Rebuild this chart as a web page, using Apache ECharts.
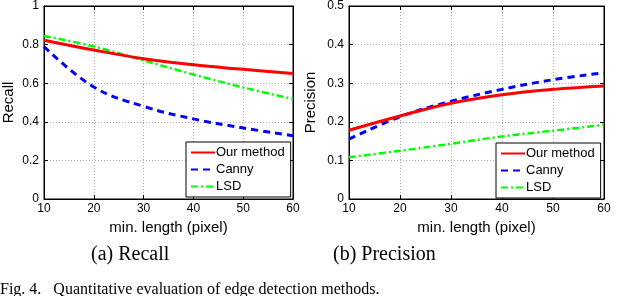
<!DOCTYPE html>
<html><head><meta charset="utf-8">
<script src="https://cdn.jsdelivr.net/npm/echarts@6/dist/echarts.min.js"></script>
<style>html,body{margin:0;padding:0;background:#fff}#c{width:640px;height:296px}</style>
</head><body><div id="c"></div>
<script>
const xVals = [10, 20, 30, 40, 50, 60];
const recallOur   = [0.823, 0.772, 0.727, 0.695, 0.672, 0.650];
const recallCanny = [0.790, 0.580, 0.480, 0.415, 0.368, 0.328];
const recallLSD   = [0.845, 0.790, 0.718, 0.645, 0.578, 0.518];
const precOur   = [0.178, 0.215, 0.248, 0.270, 0.284, 0.293];
const precCanny = [0.155, 0.213, 0.253, 0.284, 0.309, 0.327];
const precLSD   = [0.108, 0.125, 0.143, 0.162, 0.177, 0.192];
const names = ['Our method', 'Canny', 'LSD'];
const recallMax = 1, precMax = 0.5;

const pair = (ys) => xVals.map((x, i) => [x, ys[i]]);
const font = 'Liberation Sans, Arial, sans-serif';
const styles = [
  {color: '#ff0000', type: 'solid', width: 3},
  {color: '#0000ff', type: [7, 5], width: 3},
  {color: '#00ff00', type: [7, 3, 2, 3], width: 2.5}
];

function xAx(gi, pos) {
  return {
    type: 'value', gridIndex: gi, min: 10, max: 60, interval: 10, position: pos,
    name: pos === 'bottom' ? 'min. length (pixel)' : '', nameLocation: 'middle', nameGap: 16,
    nameTextStyle: {fontFamily: font, fontSize: 15, color: '#000'},
    axisLine: {show: true, onZero: false, lineStyle: {color: '#000', width: 1}},
    axisTick: {show: true, inside: true, length: 4, lineStyle: {color: '#000'}},
    axisLabel: {show: pos === 'bottom', fontFamily: font, fontSize: 12, color: '#000', margin: 4},
    splitLine: {show: pos === 'bottom', lineStyle: {color: '#aaa', type: [1, 2], width: 1}}
  };
}
function yAx(gi, pos, max, name, gap) {
  return {
    type: 'value', gridIndex: gi, min: 0, max: max, interval: max / 5, position: pos,
    name: pos === 'left' ? name : '', nameLocation: 'middle', nameGap: gap, nameRotate: 90,
    nameTextStyle: {fontFamily: font, fontSize: 15, color: '#000'},
    axisLine: {show: true, onZero: false, lineStyle: {color: '#000', width: 1}},
    axisTick: {show: true, inside: true, length: 4, lineStyle: {color: '#000'}},
    axisLabel: {show: pos === 'left', fontFamily: font, fontSize: 12, color: '#000', margin: 5,
      formatter: v => String(+v.toFixed(2))},
    splitLine: {show: pos === 'left', lineStyle: {color: '#aaa', type: [1, 2], width: 1}}
  };
}
function mkSeries(gi, arrs) {
  return arrs.map((a, i) => ({
    name: names[i], type: 'line', xAxisIndex: gi * 2, yAxisIndex: gi * 2,
    data: pair(a), smooth: 0.4, symbol: 'none', lineStyle: styles[i], itemStyle: {color: styles[i].color},
    z: 3 - i
  }));
}
function mkLegend(left, top) {
  return {
    left: left, top: top, orient: 'vertical', data: names,
    backgroundColor: '#fff', borderColor: '#000', borderWidth: 1, borderRadius: 0,
    padding: [4, 6, 4, 4], itemGap: 4, itemWidth: 24, itemHeight: 12,
    itemStyle: {opacity: 0},
    textStyle: {fontFamily: font, fontSize: 13, color: '#000', padding: [0, 0, 0, -4]},
    selectedMode: false
  };
}
const option = {
  animation: false,
  grid: [
    {left: 40, top: 5, width: 253, height: 194, show: true, borderColor: '#000', borderWidth: 1},
    {left: 349, top: 6, width: 255, height: 193, show: true, borderColor: '#000', borderWidth: 1}
  ],
  xAxis: [xAx(0, 'bottom'), xAx(0, 'top'), xAx(1, 'bottom'), xAx(1, 'top')],
  yAxis: [yAx(0, 'left', recallMax, 'Recall', 28), yAx(0, 'right', recallMax, '', 28),
          yAx(1, 'left', precMax, 'Precision', 31), yAx(1, 'right', precMax, '', 31)],
  legend: [mkLegend(186, 142), mkLegend(496, 143)],
  series: [...mkSeries(0, [recallOur, recallCanny, recallLSD]), ...mkSeries(1, [precOur, precCanny, precLSD])],
  graphic: [
    {type: 'text', left: 91, top: 245, style: {text: '(a) Recall', font: '20px "Liberation Serif", "Times New Roman", serif', fill: '#000'}},
    {type: 'text', left: 333, top: 245, style: {text: '(b) Precision', font: '20px "Liberation Serif", "Times New Roman", serif', fill: '#000'}},
    {type: 'text', left: 0, top: 282, style: {text: 'Fig. 4.   Quantitative evaluation of edge detection methods.', font: '16px "Liberation Serif", "Times New Roman", serif', fill: '#000'}}
  ]
};
const chart = echarts.init(document.getElementById('c'), null, {renderer: 'canvas'});
chart.setOption(option);
</script></body></html>
